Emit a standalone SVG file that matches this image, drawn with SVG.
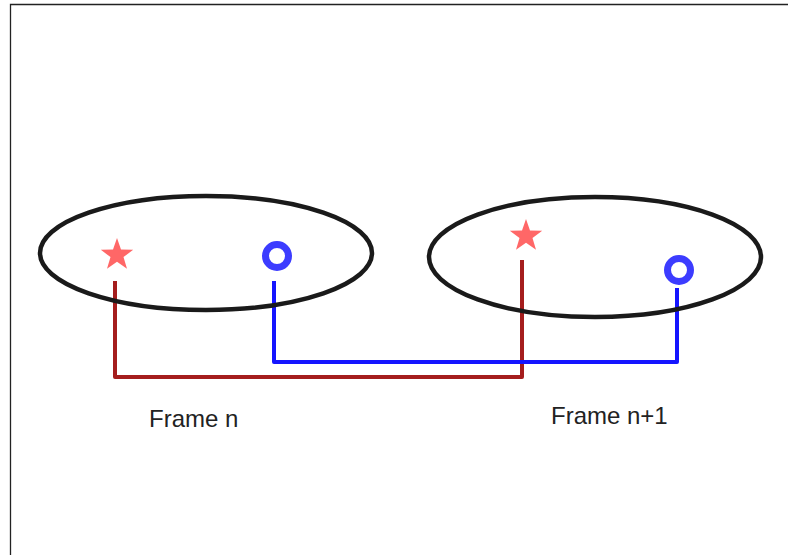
<svg xmlns="http://www.w3.org/2000/svg" width="788" height="555" viewBox="0 0 788 555">
<style>
.frame{fill:none;stroke:#1a1a1a;stroke-width:4.5}
.star{fill:#ff5a5a;opacity:0.92}
.ring{fill:none;stroke:#3c3cff;stroke-width:7}
.lbl{font-family:"Liberation Sans",Arial,sans-serif;font-size:24px;fill:#222}
.red{fill:none;stroke:#a51d1d;stroke-width:4}
.blue{fill:none;stroke:#1515ff;stroke-width:4}
</style>
<defs>
<polygon id="starShape" points="0,-17 4,-5.5 16.2,-5.2 6.5,2.1 10,13.7 0,6.8 -10,13.7 -6.5,2.1 -16.2,-5.2 -4,-5.5"/>
</defs>
<rect width="788" height="555" fill="#fff"/>
<path d="M10.5,555 V4.5 H788" fill="none" stroke="#222" stroke-width="1.3"/>
<g id="connectors">
<path class="red" d="M115,281 V377 H522 V260" stroke-linejoin="round"/>
<path class="blue" d="M274,281 V362 H677 V288" stroke-linejoin="round"/>
</g>
<g id="frame-n">
<ellipse class="frame" cx="206" cy="253" rx="166" ry="57"/>
<use href="#starShape" class="star" x="117" y="255"/>
<circle class="ring" cx="277" cy="256" r="11.5"/>
<text class="lbl" x="149" y="427">Frame n</text>
</g>
<g id="frame-n1">
<ellipse class="frame" cx="595" cy="257" rx="166" ry="60"/>
<use href="#starShape" class="star" x="526" y="236"/>
<circle class="ring" cx="679" cy="270" r="11.5"/>
<text class="lbl" x="551" y="424">Frame n+1</text>
</g>
</svg>
